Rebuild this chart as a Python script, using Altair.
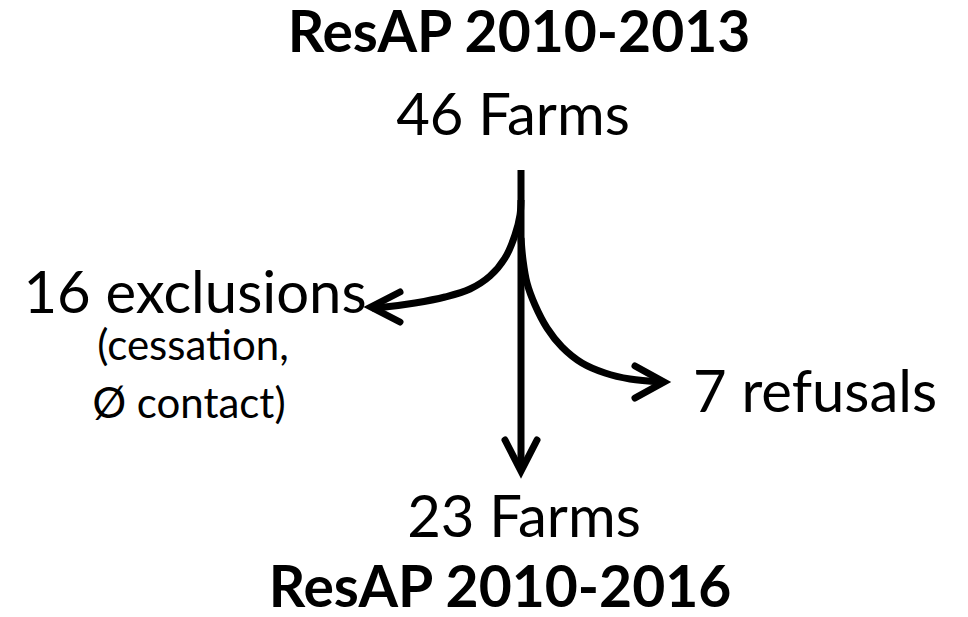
import altair as alt
import pandas as pd

# ---- text labels ----
bold_labels = ["ResAP 2010-2013", "ResAP 2010-2016"]
bold_x = [519, 500]
bold_y = [52, 607]

big_labels = ["46 Farms", "16 exclusions", "7 refusals", "23 Farms"]
big_x = [513, 195, 815, 524]
big_y = [135, 313, 412, 537]

small_labels = ["(cessation,", "Ø contact)"]
small_x = [193, 189]
small_y = [360, 418]

# ---- arrow paths (diagram coordinates) ----
main_x = [521, 521]
main_y = [170, 468]

left_x = [521, 520, 515, 505, 490, 470, 445, 415, 385, 372]
left_y = [200, 215, 235, 258, 276, 289, 297, 303, 307, 308]

right_x = [521, 523, 527, 535, 547, 562, 582, 605, 630, 661]
right_y = [238, 260, 283, 305, 328, 347, 363, 373, 379, 382]

head_main_x = [505, 521, 537]
head_main_y = [440, 471, 440]
head_left_x = [400, 371, 400]
head_left_y = [292, 307, 322]
head_right_x = [635, 664, 635]
head_right_y = [366, 382, 398]

W, H = 952, 601
xs = alt.Scale(domain=[8, 8 + W], nice=False, zero=False)
ys = alt.Scale(domain=[8, 8 + H], nice=False, zero=False, reverse=True)


def path_df(name, xv, yv):
    return pd.DataFrame({"x": xv, "y": yv, "path": name, "o": list(range(len(xv)))})


curves = pd.concat([
    path_df("main", main_x, main_y),
    path_df("left", left_x, left_y),
    path_df("right", right_x, right_y),
])
heads = pd.concat([
    path_df("hm", head_main_x, head_main_y),
    path_df("hl", head_left_x, head_left_y),
    path_df("hr", head_right_x, head_right_y),
])

enc = dict(
    x=alt.X("x:Q", scale=xs, axis=None),
    y=alt.Y("y:Q", scale=ys, axis=None),
    detail="path:N",
    order="o:Q",
)

curve_layer = alt.Chart(curves).mark_line(
    interpolate="catmull-rom", color="black", strokeWidth=7, strokeCap="butt"
).encode(**enc)

head_layer = alt.Chart(heads).mark_line(
    interpolate="linear", color="black", strokeWidth=7, strokeCap="round", strokeJoin="miter"
).encode(**enc)


def text_layer(lbls, xv, yv, size, weight):
    df = pd.DataFrame({"t": lbls, "x": xv, "y": yv})
    return alt.Chart(df).mark_text(
        font="Lato", fontSize=size, fontWeight=weight, align="center",
        baseline="alphabetic", color="black"
    ).encode(
        x=alt.X("x:Q", scale=xs, axis=None),
        y=alt.Y("y:Q", scale=ys, axis=None),
        text="t:N",
    )


chart = alt.layer(
    curve_layer,
    head_layer,
    text_layer(bold_labels, bold_x, bold_y, 57, "bold"),
    text_layer(big_labels, big_x, big_y, 58, "normal"),
    text_layer(small_labels, small_x, small_y, 42, "normal"),
).properties(
    width=W, height=H, padding=0, autosize=alt.AutoSizeParams(type="none"),
    background="white",
).configure_view(stroke=None)

chart.save("out.html", embed_options={"renderer": "svg", "actions": False})
